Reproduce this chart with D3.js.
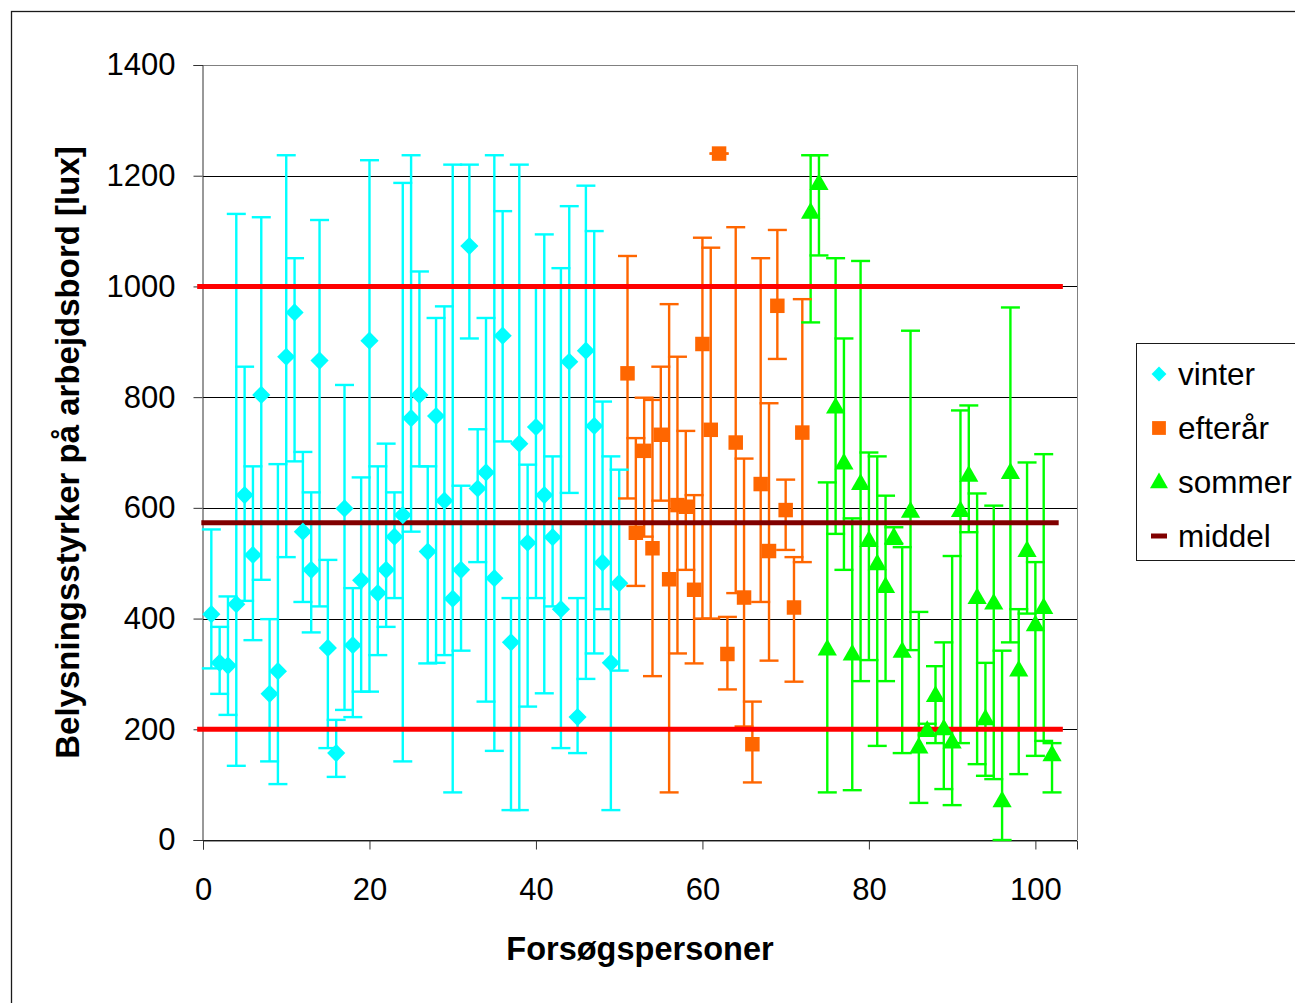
<!DOCTYPE html>
<html>
<head>
<meta charset="utf-8">
<script src="https://d3js.org/d3.v7.min.js"></script>
<style>
  body { margin: 0; background: #fff; }
  text { font-family: "Liberation Sans", Arial, sans-serif; fill: #000; }
</style>
</head>
<body>
<div id="chart"></div>
<script>
// lux per person: mean, max, min  (persons numbered 1..102)
const vinterMean = [408,320,315,426,623,515,804,264,305,873,953,557,488,866,347,157,599,352,469,902,446,488,548,587,762,804,521,766,613,436,488,1073,635,664,473,911,357,716,537,746,623,547,417,864,222,884,748,501,320,464];
const vinterMax  = [561,385,440,1131,855,675,1125,399,679,1237,1051,701,628,1120,506,217,822,455,655,1228,675,716,628,1187,1237,1027,675,943,964,1220,640,1220,742,943,1237,1136,437,1220,678,1000,1094,693,1033,1145,437,1182,1100,792,693,669];
const vinterMin  = [310,264,226,134,432,361,470,142,101,511,684,430,375,422,166,114,235,222,268,268,334,385,437,142,557,675,319,320,334,86,342,906,502,250,161,720,54,54,241,437,265,422,166,627,157,291,337,417,54,306];

const efteraarMean = [843,555,703,527,732,471,605,602,452,896,741,1240,336,718,438,173,643,522,965,596,420,736];
const efteraarMax  = [1055,726,799,795,855,968,873,739,623,1088,1070,1240,403,1107,689,250,1051,789,1102,651,511,977];
const efteraarMin  = [617,459,548,296,613,86,337,488,319,400,400,1240,272,446,205,104,430,324,869,524,286,502];

const sommerMean = [1135,1187,346,783,682,337,645,542,500,459,548,342,595,169,199,262,202,178,596,660,439,220,429,72,665,308,524,390,421,155];
const sommerMax  = [1237,1237,646,1051,906,581,1046,700,693,622,565,529,920,412,210,314,357,513,776,785,626,320,604,342,962,417,682,502,697,175];
const sommerMin  = [935,1056,86,553,488,90,287,325,170,287,535,157,343,67,190,175,92,63,175,556,137,116,110,0,357,119,409,152,179,86];

const series = [
  {name: 'vinter',   first: 1,  mean: vinterMean,   max: vinterMax,   min: vinterMin,   color: '#00ffff', shape: 'diamond'},
  {name: 'efterår',  first: 51, mean: efteraarMean, max: efteraarMax, min: efteraarMin, color: '#ff6600', shape: 'square'},
  {name: 'sommer',   first: 73, mean: sommerMean,   max: sommerMax,   min: sommerMin,   color: '#00ff00', shape: 'triangle'}
];

// reference lines
const graenser = [200, 1000];
const graenseX = [-0.7, 103.3];
const middel = 573;
const middelX = [-0.2, 102.8];

const xTicks = [0, 20, 40, 60, 80, 100];
const yTicks = [0, 200, 400, 600, 800, 1000, 1200, 1400];

const W = 1295, H = 1003;
const margin = {top: 65, left: 203, right: 1295 - 1077, bottom: H - 840};

const svg = d3.select('#chart').append('svg')
  .attr('width', W).attr('height', H);

svg.append('rect').attr('width', W).attr('height', H).attr('fill', '#fff');

// outer frame (runs past right and bottom edge)
svg.append('rect')
  .attr('x', 11.5).attr('y', 11.5)
  .attr('width', W).attr('height', H)
  .attr('fill', 'none').attr('stroke', '#1a1a1a').attr('stroke-width', 1.3);

const x = d3.scaleLinear().domain([0, 105]).range([margin.left, W - margin.right]);
const y = d3.scaleLinear().domain([0, 1400]).range([H - margin.bottom, margin.top]);

// gridlines
svg.append('g').selectAll('line')
  .data(yTicks)
  .join('line')
  .attr('x1', x(0)).attr('x2', x(105))
  .attr('y1', d => Math.round(y(d)) + 0.5).attr('y2', d => Math.round(y(d)) + 0.5)
  .attr('stroke', d => d === 1400 ? '#808080' : '#000')
  .attr('stroke-width', 1);

// right frame of plot
svg.append('line')
  .attr('x1', x(105) + 0.5).attr('x2', x(105) + 0.5)
  .attr('y1', y(1400)).attr('y2', y(0))
  .attr('stroke', '#808080');

// axes
const yAxis = d3.axisLeft(y).tickValues(yTicks).tickFormat(d3.format('d')).tickSize(9).tickPadding(18);
const xAxis = d3.axisBottom(x).tickValues(xTicks).tickFormat(d3.format('d')).tickSize(9).tickPadding(28);

svg.append('g')
  .attr('transform', `translate(${x(0) - 0.5},0)`)
  .call(yAxis)
  .call(g => g.selectAll('.domain, line').attr('stroke', '#333'))
  .call(g => g.selectAll('text').style('font-size', '31px').attr('fill', '#000'));

svg.append('g')
  .attr('transform', `translate(0,${y(0) + 0.5})`)
  .call(xAxis)
  .call(g => g.select('.domain').attr('stroke', '#333'))
  .call(g => g.selectAll('line').attr('stroke', '#333'))
  .call(g => g.selectAll('text').style('font-size', '31px').attr('fill', '#000'));

// axis titles
svg.append('text')
  .attr('x', x(52.5)).attr('y', 960)
  .attr('text-anchor', 'middle')
  .style('font-size', '32.5px').style('font-weight', 'bold')
  .text('Forsøgspersoner');

svg.append('text')
  .attr('transform', `translate(79,${(y(0) + y(1400)) / 2}) rotate(-90)`)
  .attr('text-anchor', 'middle')
  .style('font-size', '33px').style('font-weight', 'bold')
  .text('Belysningsstyrker på arbejdsbord [lux]');

// error bars + markers
const capHalf = 9.5;
const symbolPath = {
  diamond: d3.symbol().type(d3.symbolSquare).size(165)(),
  square: d3.symbol().type(d3.symbolSquare).size(210)(),
  triangle: d3.symbol().type(d3.symbolTriangle).size(160)()
};
const symbolRotate = shape => shape === 'diamond' ? ' rotate(45)' : '';

const pts = [];
series.forEach(s => {
  s.mean.forEach((m, i) => pts.push({s, n: s.first + i, mean: m, max: s.max[i], min: s.min[i]}));
});

const bars = svg.append('g').attr('id', 'errorbars');
bars.selectAll('.stem')
  .data(pts)
  .join('line')
  .attr('class', 'stem')
  .attr('x1', d => x(d.n)).attr('x2', d => x(d.n))
  .attr('y1', d => y(d.max)).attr('y2', d => y(d.min))
  .attr('stroke', d => d.s.color).attr('stroke-width', 2.4);

bars.selectAll('.capHi')
  .data(pts)
  .join('line')
  .attr('class', 'capHi')
  .attr('x1', d => x(d.n) - capHalf).attr('x2', d => x(d.n) + capHalf)
  .attr('y1', d => y(d.max)).attr('y2', d => y(d.max))
  .attr('stroke', d => d.s.color).attr('stroke-width', 2.4);

bars.selectAll('.capLo')
  .data(pts)
  .join('line')
  .attr('class', 'capLo')
  .attr('x1', d => x(d.n) - capHalf).attr('x2', d => x(d.n) + capHalf)
  .attr('y1', d => y(d.min)).attr('y2', d => y(d.min))
  .attr('stroke', d => d.s.color).attr('stroke-width', 2.4);

// limit lines
svg.append('g').selectAll('line')
  .data(graenser)
  .join('line')
  .attr('x1', x(graenseX[0])).attr('x2', x(graenseX[1]))
  .attr('y1', d => y(d)).attr('y2', d => y(d))
  .attr('stroke', '#ff0000').attr('stroke-width', 5);

svg.append('line')
  .attr('x1', x(middelX[0])).attr('x2', x(middelX[1]))
  .attr('y1', y(middel)).attr('y2', y(middel))
  .attr('stroke', '#800000').attr('stroke-width', 5);

svg.append('g').attr('id', 'markers').selectAll('path')
  .data(pts)
  .join('path')
  .attr('transform', d => `translate(${x(d.n)},${y(d.mean) + (d.s.shape === 'triangle' ? 1.5 : 0)})${symbolRotate(d.s.shape)}`)
  .attr('d', d => symbolPath[d.s.shape])
  .attr('fill', d => d.s.color);

// legend
const legend = svg.append('g').attr('transform', 'translate(1136,343)');
legend.append('rect')
  .attr('x', 0.5).attr('y', 0.5).attr('width', 200).attr('height', 217)
  .attr('fill', '#fff').attr('stroke', '#1a1a1a').attr('stroke-width', 1);

const legendItems = [
  {label: 'vinter', color: '#00ffff', shape: 'diamond'},
  {label: 'efterår', color: '#ff6600', shape: 'square'},
  {label: 'sommer', color: '#00ff00', shape: 'triangle'},
  {label: 'middel', color: '#800000', shape: 'line'}
];

const legendSym = {
  diamond: d3.symbol().type(d3.symbolSquare).size(110)(),
  square: d3.symbol().type(d3.symbolSquare).size(190)(),
  triangle: d3.symbol().type(d3.symbolTriangle).size(140)()
};

const li = legend.selectAll('.item')
  .data(legendItems)
  .join('g')
  .attr('class', 'item')
  .attr('transform', (d, i) => `translate(0,${31 + i * 54})`);

li.filter(d => d.shape !== 'line').append('path')
  .attr('transform', d => `translate(23,${d.shape === 'triangle' ? 1 : 0})${symbolRotate(d.shape)}`)
  .attr('d', d => legendSym[d.shape])
  .attr('fill', d => d.color);

li.filter(d => d.shape === 'line').append('line')
  .attr('x1', 15).attr('x2', 31).attr('y1', 0).attr('y2', 0)
  .attr('stroke', d => d.color).attr('stroke-width', 5);

li.append('text')
  .attr('x', 42).attr('y', 11)
  .style('font-size', '31.5px')
  .text(d => d.label);
</script>
</body>
</html>
